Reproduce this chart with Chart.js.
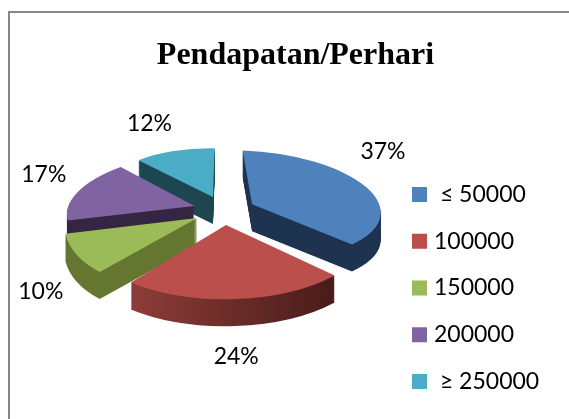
<!DOCTYPE html>
<html>
<head>
<meta charset="utf-8">
<script src="https://cdn.jsdelivr.net/npm/chart.js@4"></script>
<style>
  html, body { margin: 0; padding: 0; background: #fff; }
  #wrap { position: relative; width: 569px; height: 419px; overflow: hidden; }
</style>
</head>
<body>
<div id="wrap"><canvas id="my_chart" width="569" height="419"></canvas></div>
<script>
const categories = [" \u2264 50000", "100000", "150000", "200000", " \u2265 250000"];
const values = [37, 24, 10, 17, 12];
const pct_labels = ["37%", "24%", "10%", "17%", "12%"];
const top_colors = ["#4f81bd", "#bb4f4c", "#9bbb59", "#8064a2", "#4bacc6"];
const title_text = "Pendapatan/Perhari";

// look of the fake 3d pie
const CX = 224, CY = 210, RADIUS = 127, EXPLODE = 31;
const SQUASH = 0.47, PERSP = 0.15, DEPTH = 27;
// [lighter left colour, darker right colour] of each slice wall
const wall_colors = [
  ["#1d3350", "#1d3350"],
  ["#8f3d3a", "#4a1d1a"],
  ["#88a64c", "#64762f"],
  ["#342542", "#342542"],
  ["#1e4650", "#1e4650"]
];
const draw_order = [4, 3, 2, 0, 1];
// pixels from the slice rim to the middle of its label
const label_nudge = [[24, -31], [0, 56], [-35, 37], [-36, -16], [-25, -28]];

function project(u, v) {
  const f = 1 / (1 - PERSP * v / RADIUS);
  return { x: CX + u * f, y: CY + SQUASH * v * f };
}

function slice_geom(el) {
  const { startAngle, endAngle } = el.getProps(["startAngle", "endAngle"], true);
  const mid = (startAngle + endAngle) / 2;
  const ou = Math.cos(mid) * EXPLODE, ov = Math.sin(mid) * EXPLODE;
  const point = (a, r) => project(ou + Math.cos(a) * r, ov + Math.sin(a) * r);
  return { startAngle, endAngle, mid, ou, ov, apex: project(ou, ov), point,
           a: point(startAngle, RADIUS), b: point(endAngle, RADIUS) };
}

// canvas transform fitting the flat arc to its projected rim (least squares, corners count more)
function apply_slice_transform(ctx, el, g, dy) {
  const { x, y } = el.getProps(["x", "y"], true);
  let sxx = 0, sxy = 0, syy = 0, xX = 0, yX = 0, xY = 0, yY = 0;
  const steps = 8;
  for (let s = 0; s <= steps; s++) {
    const t = g.startAngle + (g.endAngle - g.startAngle) * s / steps;
    const w = (s === 0 || s === steps) ? 5 : 1;
    const px = Math.cos(t) * RADIUS, py = Math.sin(t) * RADIUS;
    const q = g.point(t, RADIUS);
    const qx = q.x - g.apex.x, qy = q.y - g.apex.y;
    sxx += w * px * px; sxy += w * px * py; syy += w * py * py;
    xX += w * px * qx; yX += w * py * qx; xY += w * px * qy; yY += w * py * qy;
  }
  const det = sxx * syy - sxy * sxy;
  const m11 = (xX * syy - yX * sxy) / det, m12 = (yX * sxx - xX * sxy) / det;
  const m21 = (xY * syy - yY * sxy) / det, m22 = (yY * sxx - xY * sxy) / det;
  ctx.transform(m11, m21, m12, m22, g.apex.x, g.apex.y + dy);
  ctx.translate(-x, -y);
}

function draw_with_fill(el, ctx, fill) {
  const saved = el.options;
  el.options = Object.assign({}, saved, { backgroundColor: fill });
  el.draw(ctx);
  el.options = saved;
}

const pie3d = {
  id: "pie3d",
  beforeDraw(chart) {
    const ctx = chart.ctx;
    ctx.save();
    ctx.strokeStyle = "#868686";
    ctx.lineWidth = 2;
    ctx.beginPath();
    ctx.moveTo(9, 419);
    ctx.lineTo(9, 12);
    ctx.lineTo(569, 12);
    ctx.stroke();
    ctx.restore();
  },
  beforeDatasetsDraw(chart) {
    const ctx = chart.ctx;
    const arcs = chart.getDatasetMeta(0).data;
    draw_order.forEach(i => {
      const el = arcs[i];
      const g = slice_geom(el);
      for (let d = DEPTH; d >= 0; d--) {
        ctx.save();
        let fill = top_colors[i];
        apply_slice_transform(ctx, el, g, d);
        if (d > 0) {
          // gradient has to run along the screen, so map its ends back
          const inv = ctx.getTransform().inverse();
          const p0 = inv.transformPoint(new DOMPoint(Math.min(g.a.x, g.b.x), 0));
          const p1 = inv.transformPoint(new DOMPoint(Math.max(g.a.x, g.b.x), 0));
          fill = ctx.createLinearGradient(p0.x, p0.y, p1.x, p1.y);
          fill.addColorStop(0, wall_colors[i][0]);
          fill.addColorStop(1, wall_colors[i][1]);
        }
        draw_with_fill(el, ctx, fill);
        ctx.restore();
      }
    });
    return false;
  },
  afterDraw(chart) {
    const ctx = chart.ctx;
    const arcs = chart.getDatasetMeta(0).data;
    ctx.save();
    ctx.fillStyle = "#000";
    ctx.font = "23px Lato";
    ctx.textAlign = "center";
    ctx.textBaseline = "middle";
    arcs.forEach((el, i) => {
      const g = slice_geom(el);
      const rim = g.point(g.mid, RADIUS);
      ctx.fillText(pct_labels[i], rim.x + label_nudge[i][0], rim.y + label_nudge[i][1]);
    });
    ctx.restore();
  },
  afterLayout(chart) {
    // legend sits at a fixed spot like in the office chart
    const lg = chart.legend;
    const w = lg.right - lg.left, h = lg.bottom - lg.top;
    lg.left = 392.75; lg.right = lg.left + w;
    lg.top = 159.25; lg.bottom = lg.top + h;
  }
};

const ctx = document.getElementById("my_chart");
const my_chart = new Chart(ctx, {
  type: "pie",
  data: {
    labels: categories,
    datasets: [{
      data: values,
      backgroundColor: top_colors,
      borderWidth: 0,
      radius: RADIUS
    }]
  },
  options: {
    responsive: false,
    animation: false,
    layout: { padding: { left: 22 } },
    plugins: {
      title: {
        display: true,
        text: title_text,
        color: "#000",
        font: { family: "'Liberation Serif'", size: 32, weight: "bold", lineHeight: 1.2 },
        padding: { top: 37, bottom: 0 }
      },
      legend: {
        display: true,
        position: "right",
        align: "start",
        labels: {
          color: "#000",
          font: { family: "Lato", size: 23, lineHeight: 1.2 },
          boxWidth: 6,
          boxHeight: 6,
          padding: 23.75,
          // thick same colour outline makes the 15px square and keeps the text close
          generateLabels(chart) {
            return categories.map((c, i) => ({
              text: c, fillStyle: top_colors[i], strokeStyle: top_colors[i],
              lineWidth: 9, lineJoin: "miter", hidden: false, index: i
            }));
          }
        }
      },
      tooltip: { enabled: false }
    }
  },
  plugins: [pie3d]
});
</script>
</body>
</html>
